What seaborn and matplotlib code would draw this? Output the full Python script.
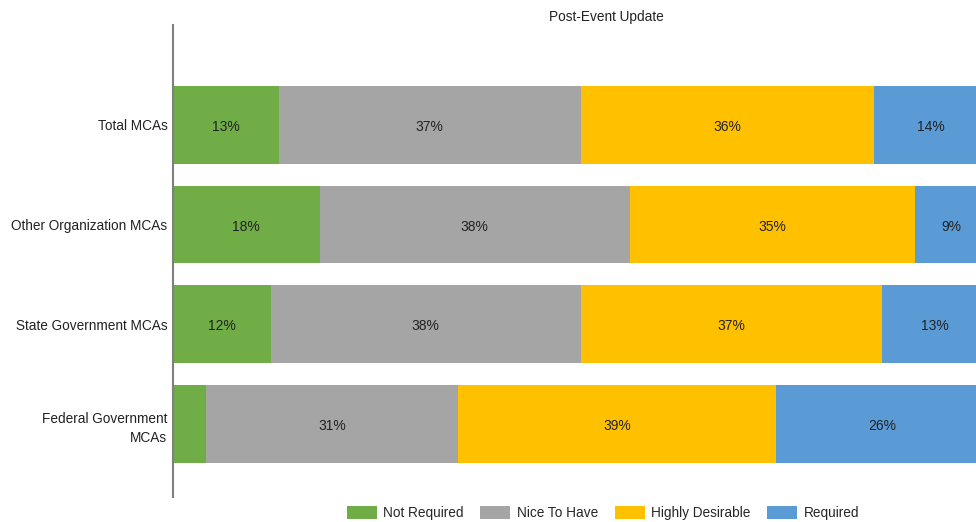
import numpy as np
import pandas as pd
import seaborn as sns
import matplotlib.pyplot as plt

groups = ["Total MCAs", "Other Organization MCAs", "State Government MCAs",
          "Federal Government\nMCAs"]
levels = ["Not Required", "Nice To Have", "Highly Desirable", "Required"]
not_required = [13, 18, 12, 4]
nice_to_have = [37, 38, 38, 31]
highly_desirable = [36, 35, 37, 39]
required = [14, 9, 13, 26]
colors = ["#70AD47", "#A5A5A5", "#FFC000", "#5B9BD5"]

sns.set_theme(style="white")
plt.rcParams["font.family"] = ["Liberation Sans", "DejaVu Sans"]

values = np.array([not_required, nice_to_have, highly_desirable, required])
cum = values.cumsum(axis=0)

fig, ax = plt.subplots(figsize=(9.76, 5.22), dpi=100)
fig.subplots_adjust(left=173 / 976, right=1.0, top=1 - 25 / 522, bottom=1 - 497 / 522)

# overlay cumulative bars from the largest total down
for i in range(len(levels) - 1, -1, -1):
    df = pd.DataFrame({"group": groups, "total": cum[i]})
    sns.barplot(data=df, x="total", y="group", orient="h", color=colors[i],
                saturation=1, width=0.78, linewidth=0, ax=ax, label=levels[i])

for i in range(len(levels)):
    for j in range(len(groups)):
        v = values[i, j]
        if v < 5:
            continue
        ax.text(cum[i, j] - v / 2, j + 0.02, f"{v}%", ha="center", va="center",
                fontsize=10, color="#222222")

# the original chart is cut off a little before 100%
ax.set_xlim(0, 98.5)
ax.set_ylim(3.73, -1.0)
ax.set_xlabel("")
ax.set_ylabel("")
ax.set_xticks([])
ax.tick_params(axis="y", length=0, labelsize=9.8, labelcolor="#222222", pad=4)
for lbl in ax.get_yticklabels():
    lbl.set_linespacing(1.45)
    lbl.set_multialignment("right")
for s in ["top", "right", "bottom"]:
    ax.spines[s].set_visible(False)
ax.spines["left"].set_color("#7f7f7f")
ax.spines["left"].set_linewidth(1.5)

handles, labels = ax.get_legend_handles_labels()
order = [labels.index(l) for l in levels]
ax.legend([handles[k] for k in order], levels, loc="center",
          bbox_to_anchor=(603 / 976, 1 - 513 / 522), bbox_transform=fig.transFigure,
          ncol=4, frameon=False, fontsize=9.8, handlelength=2.2, handleheight=1.1,
          columnspacing=1.2, handletextpad=0.5, borderaxespad=0.0)

fig.text(606 / 976, 1 - 17 / 522, "Post-Event Update", ha="center", va="center",
         fontsize=9.8, color="#222222")

fig.savefig("out.png", dpi=100)
